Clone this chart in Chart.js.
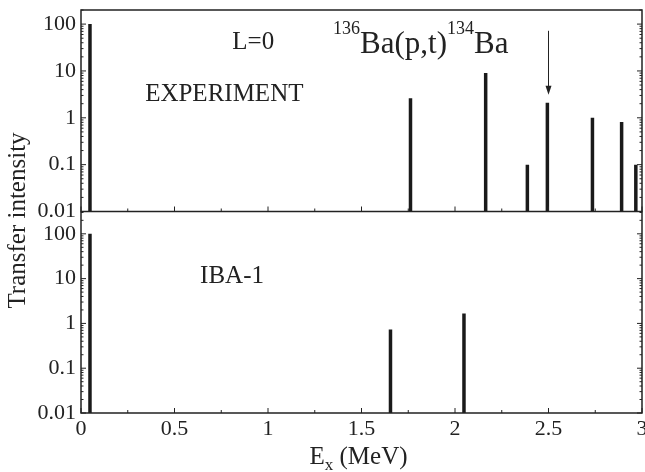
<!DOCTYPE html>
<html>
<head>
<meta charset="utf-8">
<script src="https://cdn.jsdelivr.net/npm/chart.js@4.4.1/dist/chart.umd.min.js"></script>
<style>
  html, body { margin: 0; padding: 0; background: #fff; }
  #wrap { width: 645px; height: 472px; }
</style>
</head>
<body>
<div id="wrap"><canvas id="c" width="645" height="472"></canvas></div>
<script>
// L=0 transfer intensities, 136Ba(p,t)134Ba
const expEnergies  = [0.048, 1.762, 2.164, 2.387, 2.494, 2.735, 2.891, 2.967];
const expIntensity = [100, 2.6, 9.0, 0.10, 2.1, 1.0, 0.81, 0.10];
const ibaEnergies  = [0.048, 1.655, 2.048];
const ibaIntensity = [100, 0.73, 1.66];

const xTickValues = [0, 0.5, 1, 1.5, 2, 2.5, 3];
const xTickLabels = ['0', '0.5', '1', '1.5', '2', '2.5', '3'];
const yTickValues = [0.01, 0.1, 1, 10, 100];
const yTickLabels = ['0.01', '0.1', '1', '10', '100'];

const FLOOR = 0.01;
const INK = '#222';
const SERIF = '"Liberation Serif", "DejaVu Serif", serif';

// each level is a vertical stick from the floor up to its intensity
function sticks(xs, ys) {
    const pts = [];
    xs.forEach((x, i) => {
        pts.push({x: x, y: FLOOR}, {x: x, y: ys[i]}, {x: x, y: null});
    });
    return pts;
}

function seg(ctx, x1, y1, x2, y2) {
    ctx.beginPath();
    ctx.moveTo(x1, y1);
    ctx.lineTo(x2, y2);
    ctx.stroke();
}

/**
 * Frame, inward ticks and the annotations
 */
const framePlugin = {
    id: 'frame',
    afterDraw(chart) {
        const {ctx, scales} = chart;
        const xs = scales.x;
        const L = xs.left, R = xs.right;
        const top = scales.yTop, bot = scales.yBot;

        ctx.save();
        ctx.strokeStyle = INK;
        ctx.lineWidth = 1.5;

        ctx.strokeRect(L, top.top, R - L, top.bottom - top.top);
        ctx.beginPath();
        ctx.moveTo(L, bot.top);
        ctx.lineTo(L, bot.bottom);
        ctx.lineTo(R, bot.bottom);
        ctx.lineTo(R, bot.top);
        ctx.stroke();

        ctx.lineWidth = 1;
        [top, bot].forEach(ys => {
            const lo = Math.floor(Math.log10(ys.min));
            const hi = Math.ceil(Math.log10(ys.max));
            for (let e = lo; e <= hi; e++) {
                for (let m = 1; m < 10; m++) {
                    const v = m * Math.pow(10, e);
                    if (v < ys.min * 0.999 || v > ys.max) continue;
                    const py = ys.getPixelForValue(v);
                    const len = m === 1 ? 5 : 2.5;
                    seg(ctx, L, py, L + len, py);
                    seg(ctx, R, py, R - len, py);
                }
            }
            for (let i = 0; i < xTickValues.length; i++) {
                const px = xs.getPixelForValue(xTickValues[i]);
                seg(ctx, px, ys.bottom, px, ys.bottom - 5);
                if (i < xTickValues.length - 1) {
                    const mid = (xTickValues[i] + xTickValues[i + 1]) / 2;
                    const pm = xs.getPixelForValue(mid);
                    seg(ctx, pm, ys.bottom, pm, ys.bottom - 3);
                }
            }
        });

        // arrow pointing at the 2.5 MeV level
        const ax = xs.getPixelForValue(2.5);
        const ay1 = top.getPixelForValue(72);
        const ay2 = top.getPixelForValue(3.1);
        seg(ctx, ax, ay1, ax, ay2 - 6);
        ctx.fillStyle = INK;
        ctx.beginPath();
        ctx.moveTo(ax - 3, ay2 - 9);
        ctx.lineTo(ax + 3, ay2 - 9);
        ctx.lineTo(ax, ay2);
        ctx.closePath();
        ctx.fill();

        ctx.fillStyle = INK;
        ctx.textBaseline = 'middle';
        ctx.textAlign = 'left';
        ctx.font = '25px ' + SERIF;
        ctx.fillText('L=0', xs.getPixelForValue(0.809), top.getPixelForValue(40));
        ctx.fillText('EXPERIMENT', xs.getPixelForValue(0.343), top.getPixelForValue(3.1));
        ctx.fillText('IBA-1', xs.getPixelForValue(0.637), bot.getPixelForValue(11.1));

        // reaction label with superscript mass numbers
        ctx.textBaseline = 'alphabetic';
        let tx = xs.getPixelForValue(1.348);
        const base = top.getPixelForValue(24.4);
        const parts = [['136', true], ['Ba(p,t)', false], ['134', true], ['Ba', false]];
        parts.forEach(([s, sup]) => {
            ctx.font = (sup ? '18px ' : '31px ') + SERIF;
            ctx.fillText(s, tx, sup ? base - 19 : base);
            tx += ctx.measureText(s).width;
        });

        // y title spanning both panels
        ctx.save();
        ctx.translate(18, (top.top + bot.bottom) / 2 + 9);
        ctx.rotate(-Math.PI / 2);
        ctx.textAlign = 'center';
        ctx.textBaseline = 'middle';
        ctx.font = '25px ' + SERIF;
        ctx.fillText('Transfer intensity', 0, 0);
        ctx.restore();

        // x title with subscript
        const xt = [['E', 0, 25], ['x', 6, 17], [' (MeV)', 0, 25]];
        let w = 0;
        xt.forEach(([s, dy, f]) => { ctx.font = f + 'px ' + SERIF; w += ctx.measureText(s).width; });
        let px = (L + R) / 2 - 3 - w / 2;
        xt.forEach(([s, dy, f]) => {
            ctx.font = f + 'px ' + SERIF;
            ctx.fillText(s, px, 464 + dy);
            px += ctx.measureText(s).width;
        });
        ctx.restore();
    }
};

const tickFont = {family: SERIF, size: 22};

function yAxis(max) {
    return {
        type: 'logarithmic',
        position: 'left',
        stack: 'panels',
        stackWeight: 1,
        min: 0.01,
        max: max,
        grid: {display: false, drawTicks: false},
        border: {display: false},
        afterBuildTicks: s => { s.ticks = yTickValues.map(v => ({value: v})); },
        ticks: {
            font: tickFont,
            color: INK,
            padding: 5,
            autoSkip: false,
            callback: v => yTickLabels[yTickValues.indexOf(v)] ?? ''
        },
        afterFit: s => { s.width = 48; s.paddingTop = 0; s.paddingBottom = 0; }
    };
}

const stickStyle = {
    borderColor: '#1a1a1a',
    borderWidth: 3.5,
    borderCapStyle: 'butt',
    pointRadius: 0,
    spanGaps: false,
    tension: 0
};

new Chart(document.getElementById('c'), {
    type: 'line',
    data: {
        datasets: [
            {label: 'Experiment', data: sticks(expEnergies, expIntensity), yAxisID: 'yTop', ...stickStyle},
            {label: 'IBA-1', data: sticks(ibaEnergies, ibaIntensity), yAxisID: 'yBot', ...stickStyle}
        ]
    },
    options: {
        responsive: false,
        animation: false,
        layout: {padding: {left: 33, right: 3, top: 10, bottom: 0}},
        plugins: {legend: {display: false}, tooltip: {enabled: false}},
        scales: {
            x: {
                type: 'linear',
                min: 0,
                max: 3,
                grid: {display: false, drawTicks: false},
                border: {display: false},
                afterBuildTicks: s => { s.ticks = xTickValues.map(v => ({value: v})); },
                ticks: {
                    font: tickFont,
                    color: INK,
                    padding: 3,
                    autoSkip: false,
                    maxRotation: 0,
                    callback: v => xTickLabels[xTickValues.indexOf(v)] ?? ''
                },
                afterFit: s => { s.height = 59; s.paddingLeft = 0; s.paddingRight = 0; }
            },
            yBot: yAxis(315),
            yTop: yAxis(200)
        }
    },
    plugins: [framePlugin]
});
</script>
</body>
</html>
